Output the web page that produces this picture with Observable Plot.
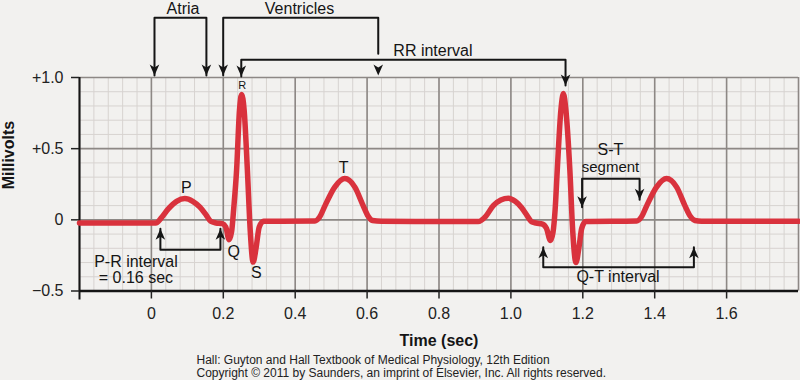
<!DOCTYPE html>
<html><head><meta charset="utf-8">
<script src="https://cdn.jsdelivr.net/npm/d3@7"></script>
<script src="https://cdn.jsdelivr.net/npm/@observablehq/plot@0.6"></script>
<style>
html,body{margin:0;padding:0;background:#f2f1ef;}
#chart{width:800px;height:380px;overflow:hidden;}
</style></head><body><div id="chart"></div>
<script>
// ECG trace (seconds, millivolts)
const timeSec = [
  -0.2, 0.012, 0.028, 0.047, 0.07, 0.093, 0.115, 0.135, 0.152, 0.165, 0.18, 0.197, 0.207, 0.216, 0.223, 0.229, 0.237, 0.245, 0.251, 0.258, 0.267, 0.275, 0.283, 0.291, 0.300, 0.312,
  0.455, 0.468, 0.483, 0.51, 0.538, 0.566, 0.589, 0.603, 0.615, 0.64,
  0.909, 0.93, 0.951, 0.972, 0.993, 1.012, 1.03, 1.045, 1.057, 1.07, 1.088, 1.099, 1.110, 1.117, 1.123, 1.129, 1.139, 1.146, 1.153, 1.164, 1.172, 1.181, 1.189, 1.197, 1.208,
  1.350, 1.363, 1.378, 1.405, 1.433, 1.461, 1.484, 1.499, 1.512, 1.53,
  1.8
];
const millivolts = [
  -0.022, -0.022, 0.015, 0.077, 0.13, 0.15, 0.13, 0.089, 0.035, -0.01, -0.022, -0.027, -0.05, -0.14, -0.085, 0.08, 0.35, 0.77, 0.88, 0.77, 0.35, -0.08, -0.297, -0.2, -0.05, -0.01,
  -0.008, 0.02, 0.10, 0.23, 0.29, 0.23, 0.10, 0.025, -0.005, -0.01,
  -0.012, 0.025, 0.10, 0.14, 0.152, 0.13, 0.085, 0.03, -0.012, -0.022, -0.03, -0.06, -0.145, -0.09, 0.07, 0.35, 0.77, 0.887, 0.77, 0.35, -0.08, -0.3, -0.2, -0.06, -0.012,
  -0.008, 0.02, 0.10, 0.23, 0.29, 0.23, 0.10, 0.025, -0.005, -0.01,
  -0.01
];

// axes
const xTickValues = [0, 0.2, 0.4, 0.6, 0.8, 1.0, 1.2, 1.4, 1.6];
const xTickLabels = ["0", "0.2", "0.4", "0.6", "0.8", "1.0", "1.2", "1.4", "1.6"];
const yTickValues = [-0.5, 0, 0.5, 1.0];
const yTickLabels = ["\u22120.5", "0", "+0.5", "+1.0"];
const xDomain = [-0.2, 1.8];
const yDomain = [-0.5, 1.0];
const xLabel = "Time (sec)";
const yLabel = "Millivolts";
const captionLines = [
  "Hall: Guyton and Hall Textbook of Medical Physiology, 12th Edition",
  "Copyright \u00a9 2011 by Saunders, an imprint of Elsevier, Inc. All rights reserved."
];

// wave labels
const waveLabels = ["P", "Q", "R", "S", "T"];
const waveLabelTime = [0.097, 0.229, 0.2526, 0.292, 0.535];
const waveLabelMv = [0.225, -0.223, 0.944, -0.375, 0.3625];

// bracket annotations
const bracketNames = ["Atria", "Ventricles", "RR interval", "P-R interval", "S-T segment", "Q-T interval"];
const bracketStart = [0.0086, 0.1997, 0.250, 0.025, 1.198, 1.090];
const bracketEnd   = [0.153, 0.631, 1.152, 0.192, 1.358, 1.509];
const bracketBar   = [1.419, 1.419, 1.124, -0.211, 0.288, -0.333];
const tipStart     = [1.014, 1.014, 1.007, -0.063, 0.089, -0.193];
const tipEnd       = [1.014, 1.014, 0.944, -0.063, 0.141, -0.193];
const legBreakEnd  = [null, 1.166, null, null, null, null];

const annotationText = ["Atria", "Ventricles", "RR interval", "P-R interval\n= 0.16 sec", "S-T", "segment", "Q-T interval"];
const annotationX = [0.088, 0.412, 0.673, -0.043, 1.277, 1.277, 1.298];
const annotationY = [1.449, 1.449, 1.151, -0.445, 0.459, 0.336, -0.434];
const annotationAnchor = ["middle", "middle", "start", "middle", "middle", "middle", "middle"];
const annotationSize = [16, 16, 16, 16, 16, 15, 16];

// --- build tables ---
const ecg = timeSec.map((t, i) => ({t, mv: millivolts[i]}));

const minorX = d3.range(0, 51).map(i => xDomain[0] + i * 0.04);
const majorX = d3.range(0, 11).map(i => xDomain[0] + i * 0.2);
const minorY = d3.range(0, 16).map(i => yDomain[0] + i * 0.1);
const majorY = [-0.5, 0, 0.5, 1.0];

const bracketLines = [];
const heads = [];
bracketNames.forEach((name, i) => {
  const s = bracketStart[i], e = bracketEnd[i], b = bracketBar[i];
  const endY = legBreakEnd[i] != null ? legBreakEnd[i] : tipEnd[i];
  [[s, tipStart[i]], [s, b], [e, b], [e, endY]].forEach(([x, y]) => bracketLines.push({name, x, y}));
  heads.push({x: s, y: tipStart[i], rot: tipStart[i] < b ? 0 : 180});
  heads.push({x: e, y: tipEnd[i], rot: tipEnd[i] < b ? 0 : 180});
});

// arrowhead pointing down, tip at origin
const arrowHead = {
  draw(ctx) {
    ctx.moveTo(0, 0);
    ctx.lineTo(-4.8, -11);
    ctx.lineTo(0, -8);
    ctx.lineTo(4.8, -11);
    ctx.closePath();
  }
};

const ink = "#151515";
const font = "'Liberation Sans', Arial, Helvetica, sans-serif";

const annotationMarks = annotationText.map((txt, i) =>
  Plot.text([txt], {
    x: () => annotationX[i], y: () => annotationY[i],
    text: d => d, textAnchor: annotationAnchor[i], lineAnchor: "bottom",
    lineHeight: 1, fontSize: annotationSize[i], fill: ink
  })
);

const chart = Plot.plot({
  width: 800, height: 380,
  marginTop: 77, marginBottom: 89.5, marginLeft: 79, marginRight: 2,
  x: {domain: xDomain, axis: null},
  y: {domain: yDomain, axis: null},
  style: {background: "#f2f1ef", fontFamily: font, fontSize: "16px", overflow: "visible"},
  marks: [
    Plot.ruleX(minorX, {stroke: "#d7d3d0", strokeWidth: 1}),
    Plot.ruleY(minorY, {stroke: "#d7d3d0", strokeWidth: 1}),
    Plot.ruleX(majorX, {stroke: "#8d8885", strokeWidth: 1.6}),
    Plot.ruleY(majorY, {stroke: "#8d8885", strokeWidth: 1.6}),
    Plot.ruleY([yDomain[0]], {stroke: ink, strokeWidth: 2.5}),
    Plot.ruleX([xDomain[0]], {stroke: ink, strokeWidth: 2, insetBottom: -9}),
    Plot.axisX({ticks: xTickValues, tickFormat: d => xTickLabels[xTickValues.indexOf(d)], tickSize: 8, tickPadding: 9, fontSize: 16, color: "#222", label: null, strokeWidth: 1.5}),
    Plot.axisY({ticks: yTickValues, tickFormat: d => yTickLabels[yTickValues.indexOf(d)], tickSize: 8, tickPadding: 8, fontSize: 16, color: "#222", label: null, strokeWidth: 1.5}),
    Plot.line(ecg, {x: "t", y: "mv", stroke: "#d9323d", strokeWidth: 5.5, curve: "monotone-x", strokeLinejoin: "round", strokeLinecap: "round"}),
    Plot.line(bracketLines, {x: "x", y: "y", z: "name", stroke: ink, strokeWidth: 2, curve: "linear"}),
    Plot.dot(heads, {x: "x", y: "y", rotate: "rot", symbol: arrowHead, fill: ink, stroke: null, r: 5}),
    ...annotationMarks,
    Plot.text(waveLabels, {x: (d, i) => waveLabelTime[i], y: (d, i) => waveLabelMv[i], text: d => d,
      fontSize: (d) => d === "R" ? 11 : 16, lineAnchor: "middle", fill: ink}),
    Plot.text([xLabel], {frameAnchor: "bottom", dy: 55, lineAnchor: "bottom", fontSize: 16, fontWeight: "bold", fill: ink}),
    Plot.text([yLabel], {frameAnchor: "left", dx: -71, dy: 5, rotate: -90, lineAnchor: "middle", fontSize: 16, fontWeight: "bold", fill: ink}),
    Plot.text([captionLines.join("\n")], {frameAnchor: "bottom-left", dx: 117, dy: 85.5, textAnchor: "start", lineAnchor: "bottom", lineHeight: 1.08, fontSize: 12, fill: "#222"})
  ]
});
document.getElementById("chart").appendChild(chart);
</script>
</body></html>
